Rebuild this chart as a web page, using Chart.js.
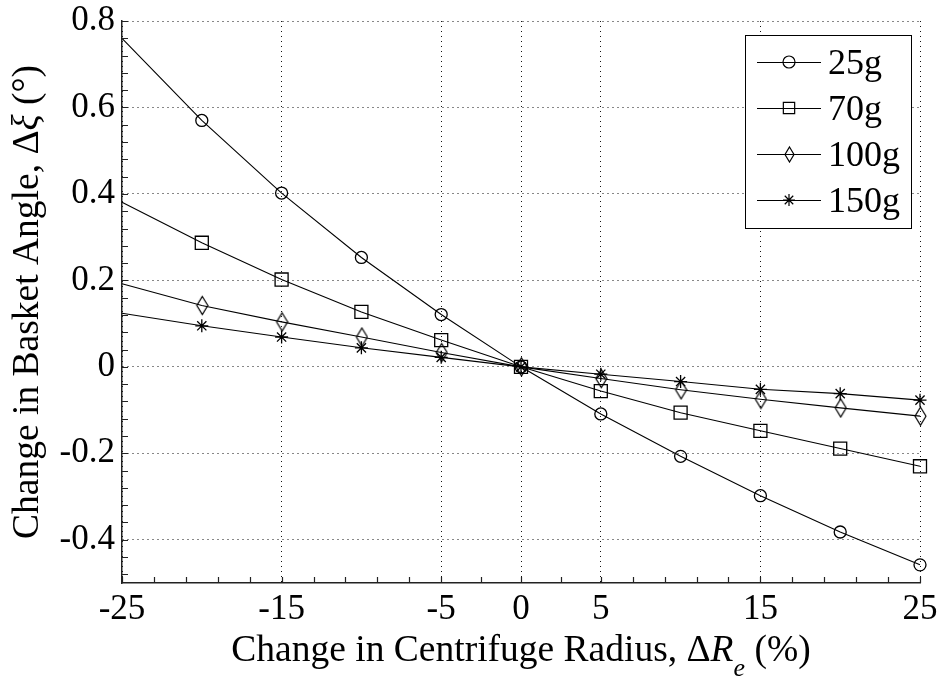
<!DOCTYPE html>
<html>
<head>
<meta charset="utf-8">
<script src="https://cdn.jsdelivr.net/npm/chart.js@4.4.1/dist/chart.umd.min.js"></script>
<style>
  html, body { margin: 0; padding: 0; background: #fff; }
  #wrap { width: 941px; height: 679px; position: relative; }
</style>
</head>
<body>
<div id="wrap"><canvas id="chart"></canvas></div>
<script>
// Change in centrifuge radius, ΔRe (%)
const radiusChange = [-25, -20, -15, -10, -5, 0, 5, 10, 15, 20, 25];

// Change in basket angle, Δξ (°), one array per g-level
const angle25g  = [0.760, 0.570, 0.402, 0.253, 0.121, 0, -0.109, -0.207, -0.298, -0.382, -0.458];
const angle70g  = [0.381, 0.287, 0.202, 0.127, 0.062, 0, -0.056, -0.106, -0.148, -0.189, -0.230];
const angle100g = [0.192, 0.142, 0.104, 0.069, 0.033, 0, -0.027, -0.053, -0.075, -0.095, -0.114];
const angle150g = [0.124, 0.095, 0.069, 0.044, 0.022, 0, -0.017, -0.034, -0.052, -0.062, -0.077];

const seriesNames = ['25g', '70g', '100g', '150g'];

// Labelled ticks (with grid lines) and the small inward tick marks
const xTickValues = [-25, -15, -5, 0, 5, 15, 25];
const yTickValues = [-0.4, -0.2, 0, 0.2, 0.4, 0.6, 0.8];
const xMinorTicks = [-25, -23, -21, -19, -17, -15, -13, -11, -9, -7, -5, -2.5, 0, 2.5, 5, 7, 9, 11, 13, 15, 17, 19, 21, 23, 25];
const yMinorTicks = [-0.48, -0.44, -0.4, -0.36, -0.32, -0.28, -0.24, -0.2, -0.16, -0.12, -0.08, -0.04, 0,
                     0.04, 0.08, 0.12, 0.16, 0.2, 0.24, 0.28, 0.32, 0.36, 0.4, 0.44, 0.48, 0.52, 0.56, 0.6,
                     0.64, 0.68, 0.72, 0.76, 0.8];

const SERIF = "'Liberation Serif', 'Times New Roman', serif";
const TICK_FONT_SIZE = 35;

// Narrow upright diamond marker
function makeDiamond(w, h) {
  const c = document.createElement('canvas');
  c.width = w + 3; c.height = h + 3;
  const g = c.getContext('2d');
  const cx = Math.floor(c.width / 2) + 0.5, cy = Math.floor(c.height / 2) + 0.5;
  g.strokeStyle = '#000';
  g.lineWidth = 1.2;
  g.beginPath();
  g.moveTo(cx, cy - h / 2);
  g.lineTo(cx + w / 2, cy);
  g.lineTo(cx, cy + h / 2);
  g.lineTo(cx - w / 2, cy);
  g.closePath();
  g.stroke();
  return c;
}
const diamondMark = makeDiamond(11, 18);
const diamondLegend = makeDiamond(9, 15);

const markers = [
  { style: 'circle', radius: 6, legendRadius: 6 },
  { style: 'rect', radius: 9.2, legendRadius: 8 },
  { style: diamondMark, legendStyle: diamondLegend, radius: 6, legendRadius: 6 },
  { style: 'star', radius: 6.5, legendRadius: 6 }
];

const seriesValues = [angle25g, angle70g, angle100g, angle150g];

const datasets = seriesValues.map((vals, i) => ({
  label: seriesNames[i],
  data: radiusChange.map((x, j) => ({ x: x, y: vals[j] })),
  borderColor: '#000',
  borderWidth: 1.1,
  backgroundColor: 'rgba(0,0,0,0)',
  pointStyle: markers[i].style,
  pointBorderColor: '#000',
  pointBackgroundColor: 'rgba(0,0,0,0)',
  pointBorderWidth: 1.3,
  // no marker at the first sample (left edge of the axis)
  pointRadius: (ctx) => ctx.dataIndex === 0 ? 0 : markers[i].radius,
  pointHoverRadius: (ctx) => ctx.dataIndex === 0 ? 0 : markers[i].radius,
  tension: 0,
  clip: false
}));

// Inward tick marks on the left and bottom axes
const innerTicks = {
  id: 'innerTicks',
  afterDatasetsDraw(chart) {
    const { ctx, chartArea: a, scales } = chart;
    ctx.save();
    ctx.strokeStyle = '#222';
    ctx.lineWidth = 1.2;
    ctx.beginPath();
    xMinorTicks.forEach(v => {
      const px = Math.round(scales.x.getPixelForValue(v)) + 0.5;
      ctx.moveTo(px, a.bottom);
      ctx.lineTo(px, a.bottom - 6);
    });
    yMinorTicks.forEach(v => {
      const py = Math.round(scales.y.getPixelForValue(v)) + 0.5;
      ctx.moveTo(a.left, py);
      ctx.lineTo(a.left + 6, py);
    });
    ctx.stroke();
    ctx.restore();
  }
};

// Draw a row of differently styled text runs; align is 'center' or 'left'
function drawRuns(ctx, runs, x, y, align) {
  let total = 0;
  runs.forEach(r => { ctx.font = r.font; r.w = ctx.measureText(r.text).width; total += r.w; });
  ctx.save();
  ctx.textAlign = 'left';
  let cx = align === 'left' ? x : x - total / 2;
  runs.forEach(r => {
    ctx.font = r.font;
    ctx.fillText(r.text, cx, y + (r.dy || 0));
    cx += r.w;
  });
  ctx.restore();
}

const axisTitles = {
  id: 'axisTitles',
  afterDraw(chart) {
    const { ctx, chartArea: a } = chart;
    ctx.save();
    ctx.fillStyle = '#000';
    ctx.textBaseline = 'alphabetic';
    // horizontal axis title
    const xBase = '37.5px ' + SERIF;
    drawRuns(ctx, [
      { text: 'Change in Centrifuge Radius, Δ', font: xBase },
      { text: 'R', font: 'italic ' + xBase },
      { text: 'e', font: 'italic 26px ' + SERIF, dy: 15 },
      { text: ' (%)', font: xBase }
    ], (a.left + a.right) / 2, 661, 'center');
    // vertical axis title
    ctx.translate(38, (a.top + a.bottom) / 2);
    ctx.rotate(-Math.PI / 2);
    const yBase = '37.5px ' + SERIF;
    drawRuns(ctx, [
      { text: 'Change in Basket Angle, Δ', font: yBase },
      { text: 'ξ', font: 'italic ' + yBase },
      { text: ' (°)', font: yBase }
    ], 0, 0, 'center');
    ctx.restore();
  }
};

// Boxed legend with line + marker samples
const boxLegend = {
  id: 'boxLegend',
  afterDraw(chart) {
    const { ctx, chartArea: a } = chart;
    const right = Math.round(a.right) - 9, top = Math.round(a.top) + 14;
    const w = 166, h = 193;
    const left = right - w;
    ctx.save();
    ctx.fillStyle = '#fff';
    ctx.fillRect(left, top, w, h);
    ctx.strokeStyle = '#000';
    ctx.lineWidth = 1;
    ctx.strokeRect(left + 0.5, top + 0.5, w, h);
    seriesNames.forEach((name, i) => {
      const y = top + 27 + i * 46;
      ctx.strokeStyle = '#000';
      ctx.lineWidth = 1;
      ctx.beginPath();
      ctx.moveTo(left + 12, y + 0.5);
      ctx.lineTo(left + 76, y + 0.5);
      ctx.stroke();
      ctx.fillStyle = 'rgba(0,0,0,0)';
      ctx.lineWidth = 1.2;
      Chart.helpers.drawPoint(ctx, {
        pointStyle: markers[i].legendStyle || markers[i].style,
        radius: markers[i].legendRadius,
        rotation: 0,
        borderWidth: 1.2
      }, left + 44, y);
      ctx.fillStyle = '#000';
      ctx.textBaseline = 'alphabetic';
      drawRuns(ctx, [{ text: name, font: '36px ' + SERIF }], left + 83, y + 12, 'left');
    });
    ctx.restore();
  }
};

const tickFont = { family: SERIF, size: TICK_FONT_SIZE, lineHeight: 1 };

new Chart(document.getElementById('chart'), {
  type: 'line',
  data: { datasets },
  options: {
    responsive: true,
    maintainAspectRatio: false,
    animation: false,
    events: [],
    layout: { padding: { left: 0, top: 21, right: 21, bottom: 0 } },
    plugins: {
      legend: { display: false },
      tooltip: { enabled: false },
      title: { display: false }
    },
    scales: {
      x: {
        type: 'linear',
        min: -25,
        max: 25,
        afterBuildTicks: (scale) => { scale.ticks = xTickValues.map(v => ({ value: v })); },
        afterFit: (scale) => {
          scale.height = 96;
          scale.paddingLeft = 0;
          scale.paddingRight = 0;
        },
        ticks: {
          font: tickFont,
          color: '#000',
          padding: 9,
          maxRotation: 0,
          callback: (v) => String(v)
        },
        grid: {
          color: '#111',
          lineWidth: 1,
          drawTicks: false
        },
        border: { display: true, color: '#222', width: 1.5, dash: [1, 4] }
      },
      y: {
        type: 'linear',
        min: -0.5,
        max: 0.8,
        afterBuildTicks: (scale) => { scale.ticks = yTickValues.map(v => ({ value: v })); },
        afterFit: (scale) => {
          scale.width = 122;
          scale.paddingTop = 0;
          scale.paddingBottom = 0;
        },
        ticks: {
          font: tickFont,
          color: '#000',
          padding: 7,
          callback: (v) => (v === 0 ? '0' : Number(v).toFixed(1))
        },
        grid: {
          color: '#111',
          lineWidth: 1,
          drawTicks: false
        },
        border: { display: true, color: '#222', width: 1.5, dash: [1, 4] }
      }
    }
  },
  plugins: [innerTicks, axisTitles, boxLegend]
});
</script>
</body>
</html>
